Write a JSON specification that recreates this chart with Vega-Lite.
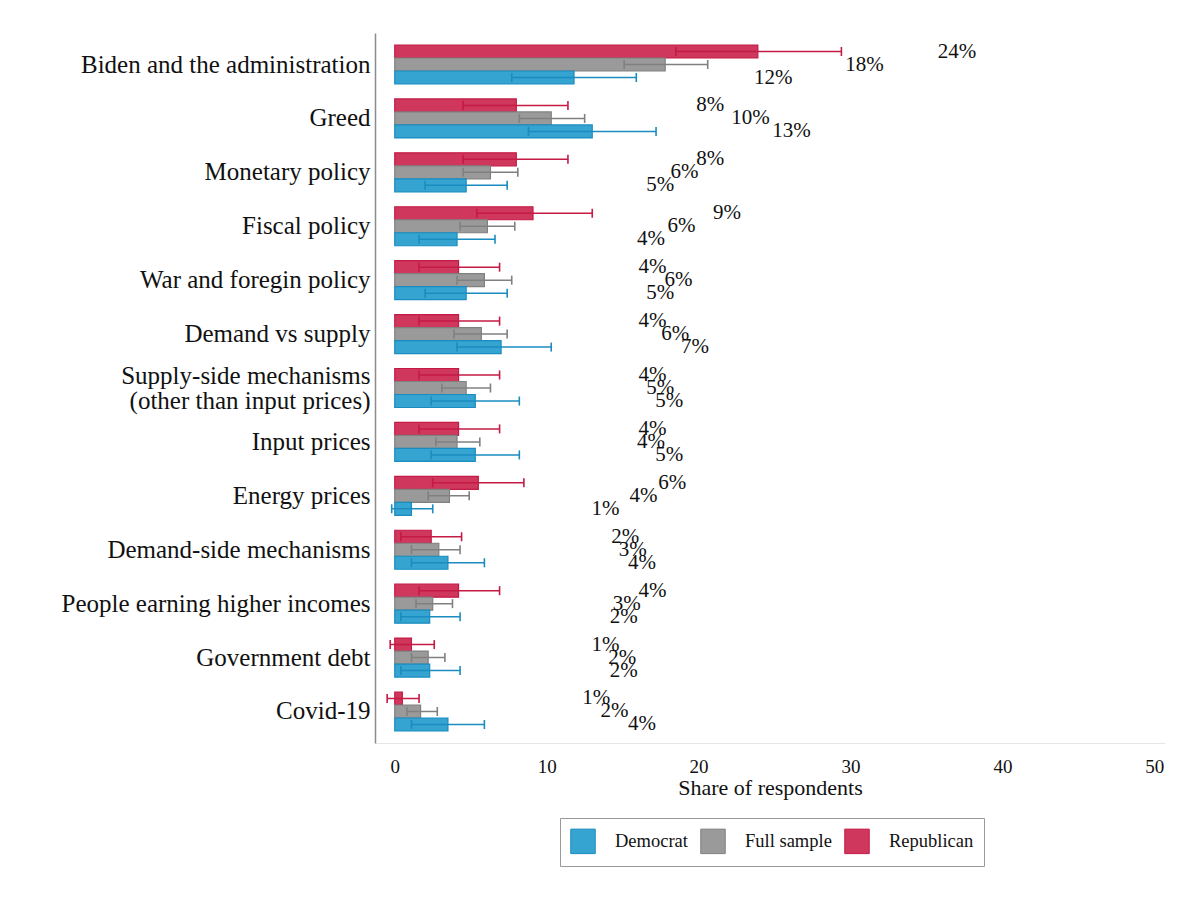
{
  "$schema": "https://vega.github.io/schema/vega-lite/v6.json",
  "autosize": "none",
  "padding": {"left": 375, "top": 33, "right": 35, "bottom": 157},
  "width": 790,
  "height": 710,
  "background": "white",
  "data": {
    "values": [
      {"cause": "Biden and the administration", "group": "Republican", "value": 23.9, "lo": 18.5, "hi": 29.4, "label": "24%"},
      {"cause": "Biden and the administration", "group": "Full sample", "value": 17.8, "lo": 15.1, "hi": 20.6, "label": "18%"},
      {"cause": "Biden and the administration", "group": "Democrat", "value": 11.8, "lo": 7.7, "hi": 15.9, "label": "12%"},
      {"cause": "Greed", "group": "Republican", "value": 8.0, "lo": 4.5, "hi": 11.4, "label": "8%"},
      {"cause": "Greed", "group": "Full sample", "value": 10.3, "lo": 8.2, "hi": 12.5, "label": "10%"},
      {"cause": "Greed", "group": "Democrat", "value": 13.0, "lo": 8.8, "hi": 17.2, "label": "13%"},
      {"cause": "Monetary policy", "group": "Republican", "value": 8.0, "lo": 4.5, "hi": 11.4, "label": "8%"},
      {"cause": "Monetary policy", "group": "Full sample", "value": 6.3, "lo": 4.5, "hi": 8.1, "label": "6%"},
      {"cause": "Monetary policy", "group": "Democrat", "value": 4.7, "lo": 2.0, "hi": 7.4, "label": "5%"},
      {"cause": "Fiscal policy", "group": "Republican", "value": 9.1, "lo": 5.4, "hi": 13.0, "label": "9%"},
      {"cause": "Fiscal policy", "group": "Full sample", "value": 6.1, "lo": 4.3, "hi": 7.9, "label": "6%"},
      {"cause": "Fiscal policy", "group": "Democrat", "value": 4.1, "lo": 1.6, "hi": 6.6, "label": "4%"},
      {"cause": "War and foregin policy", "group": "Republican", "value": 4.2, "lo": 1.6, "hi": 6.9, "label": "4%"},
      {"cause": "War and foregin policy", "group": "Full sample", "value": 5.9, "lo": 4.1, "hi": 7.7, "label": "6%"},
      {"cause": "War and foregin policy", "group": "Democrat", "value": 4.7, "lo": 2.0, "hi": 7.4, "label": "5%"},
      {"cause": "Demand vs supply", "group": "Republican", "value": 4.2, "lo": 1.6, "hi": 6.9, "label": "4%"},
      {"cause": "Demand vs supply", "group": "Full sample", "value": 5.7, "lo": 3.9, "hi": 7.4, "label": "6%"},
      {"cause": "Demand vs supply", "group": "Democrat", "value": 7.0, "lo": 4.1, "hi": 10.3, "label": "7%"},
      {"cause": "Supply-side mechanisms|(other than input prices)", "group": "Republican", "value": 4.2, "lo": 1.6, "hi": 6.9, "label": "4%"},
      {"cause": "Supply-side mechanisms|(other than input prices)", "group": "Full sample", "value": 4.7, "lo": 3.1, "hi": 6.3, "label": "5%"},
      {"cause": "Supply-side mechanisms|(other than input prices)", "group": "Democrat", "value": 5.3, "lo": 2.4, "hi": 8.2, "label": "5%"},
      {"cause": "Input prices", "group": "Republican", "value": 4.2, "lo": 1.6, "hi": 6.9, "label": "4%"},
      {"cause": "Input prices", "group": "Full sample", "value": 4.1, "lo": 2.7, "hi": 5.6, "label": "4%"},
      {"cause": "Input prices", "group": "Democrat", "value": 5.3, "lo": 2.4, "hi": 8.2, "label": "5%"},
      {"cause": "Energy prices", "group": "Republican", "value": 5.5, "lo": 2.5, "hi": 8.5, "label": "6%"},
      {"cause": "Energy prices", "group": "Full sample", "value": 3.6, "lo": 2.2, "hi": 4.9, "label": "4%"},
      {"cause": "Energy prices", "group": "Democrat", "value": 1.1, "lo": -0.2, "hi": 2.5, "label": "1%"},
      {"cause": "Demand-side mechanisms", "group": "Republican", "value": 2.4, "lo": 0.4, "hi": 4.4, "label": "2%"},
      {"cause": "Demand-side mechanisms", "group": "Full sample", "value": 2.9, "lo": 1.1, "hi": 4.3, "label": "3%"},
      {"cause": "Demand-side mechanisms", "group": "Democrat", "value": 3.5, "lo": 1.1, "hi": 5.9, "label": "4%"},
      {"cause": "People earning higher incomes", "group": "Republican", "value": 4.2, "lo": 1.6, "hi": 6.9, "label": "4%"},
      {"cause": "People earning higher incomes", "group": "Full sample", "value": 2.5, "lo": 1.4, "hi": 3.8, "label": "3%"},
      {"cause": "People earning higher incomes", "group": "Democrat", "value": 2.3, "lo": 0.4, "hi": 4.3, "label": "2%"},
      {"cause": "Government debt", "group": "Republican", "value": 1.1, "lo": -0.3, "hi": 2.6, "label": "1%"},
      {"cause": "Government debt", "group": "Full sample", "value": 2.2, "lo": 1.1, "hi": 3.3, "label": "2%"},
      {"cause": "Government debt", "group": "Democrat", "value": 2.3, "lo": 0.4, "hi": 4.3, "label": "2%"},
      {"cause": "Covid-19", "group": "Republican", "value": 0.5, "lo": -0.5, "hi": 1.6, "label": "1%"},
      {"cause": "Covid-19", "group": "Full sample", "value": 1.7, "lo": 0.8, "hi": 2.8, "label": "2%"},
      {"cause": "Covid-19", "group": "Democrat", "value": 3.5, "lo": 1.1, "hi": 5.9, "label": "4%"}
    ]
  },
  "encoding": {
    "y": {
      "field": "cause",
      "type": "nominal",
      "sort": null,
      "title": null,
      "scale": {"paddingInner": 0.277, "paddingOuter": 0.223},
      "axis": {
        "labelExpr": "split(datum.label, '|')",
        "labelFontSize": 25,
        "labelLineHeight": 25,
        "labelPadding": 5,
        "labelLimit": 400,
        "labelOffset": {
          "condition": {"test": "indexof(datum.value, '|') >= 0", "value": -12},
          "value": 0
        },
        "ticks": false,
        "domainColor": "#8c8c8c",
        "domainWidth": 1.5
      }
    },
    "yOffset": {
      "field": "group",
      "type": "nominal",
      "sort": ["Republican", "Full sample", "Democrat"],
      "scale": {"paddingInner": 0, "paddingOuter": 0}
    }
  },
  "layer": [
    {
      "mark": {"type": "bar", "strokeWidth": 1.2},
      "encoding": {
        "x": {
          "field": "value",
          "type": "quantitative",
          "title": "Share of respondents",
          "scale": {"domain": [-1.3, 50.7], "nice": false, "zero": false},
          "axis": {
            "values": [0, 10, 20, 30, 40, 50],
            "grid": false,
            "ticks": false,
            "labelFontSize": 19,
            "labelPadding": 14,
            "titleFontSize": 22,
            "titleFontWeight": "normal",
            "titlePadding": 1,
            "domainColor": "#e6e6e6"
          }
        },
        "color": {
          "field": "group",
          "type": "nominal",
          "title": null,
          "scale": {
            "domain": ["Democrat", "Full sample", "Republican"],
            "range": ["#35a4d0", "#9a9a9a", "#cf375c"]
          },
          "legend": {
            "orient": "none",
            "legendX": 185,
            "legendY": 785,
            "direction": "horizontal",
            "columns": 3,
            "symbolType": "square",
            "symbolSize": 600,
            "symbolStrokeWidth": 1,
            "symbolOpacity": 1,
            "labelFontSize": 18.5,
            "labelOffset": 19,
            "columnPadding": 10,
            "padding": 10,
            "strokeColor": "#999999",
            "fillColor": "white"
          }
        },
        "stroke": {
          "field": "group",
          "type": "nominal",
          "scale": {
            "domain": ["Democrat", "Full sample", "Republican"],
            "range": ["#1a8cbf", "#808080", "#c41a44"]
          },
          "legend": null
        }
      }
    },
    {
      "mark": {"type": "rule", "strokeWidth": 1.5},
      "encoding": {
        "x": {"field": "lo", "type": "quantitative"},
        "x2": {"field": "hi"},
        "stroke": {"field": "group", "type": "nominal", "legend": null}
      }
    },
    {
      "mark": {"type": "tick", "orient": "vertical", "size": 9, "thickness": 1.6, "opacity": 1},
      "encoding": {
        "x": {"field": "lo", "type": "quantitative"},
        "fill": {
          "field": "group",
          "type": "nominal",
          "scale": {
            "domain": ["Democrat", "Full sample", "Republican"],
            "range": ["#1a8cbf", "#808080", "#c41a44"]
          },
          "legend": null
        }
      }
    },
    {
      "mark": {"type": "tick", "orient": "vertical", "size": 9, "thickness": 1.6, "opacity": 1},
      "encoding": {
        "x": {"field": "hi", "type": "quantitative"},
        "fill": {"field": "group", "type": "nominal", "legend": null}
      }
    },
    {
      "mark": {"type": "text", "align": "left", "baseline": "middle", "dx": 180, "fontSize": 21, "color": "#111111"},
      "encoding": {
        "x": {"field": "value", "type": "quantitative"},
        "text": {"field": "label", "type": "nominal"}
      }
    }
  ],
  "config": {
    "font": "Liberation Serif",
    "view": {"stroke": null},
    "axis": {"labelColor": "#111111", "titleColor": "#111111", "labelFont": "Liberation Serif", "titleFont": "Liberation Serif"},
    "legend": {"labelColor": "#111111", "labelFont": "Liberation Serif"}
  }
}
